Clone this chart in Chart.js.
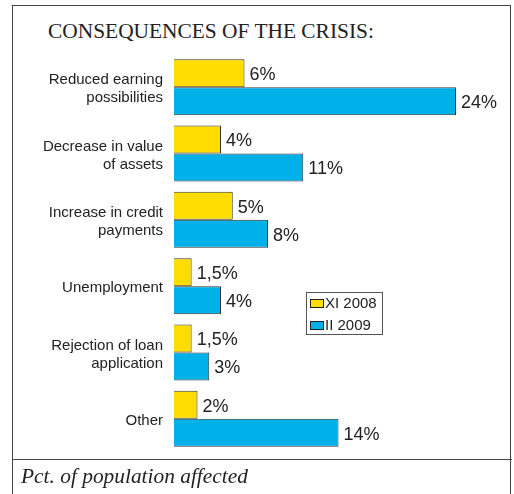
<!DOCTYPE html>
<html lang="en">
<head>
    <meta charset="UTF-8">
    <title>Consequences of the Crisis</title>
    <script src="https://cdn.jsdelivr.net/npm/chart.js"></script>
    <style>
        body {
            margin: 0;
            background-color: white;
            width: 514px;
            height: 494px;
            position: relative;
            overflow: hidden;
        }
        .frame {
            position: absolute;
            left: 12px;
            top: 5px;
            width: 497px;
            height: 500px;
            border: 1.5px solid #444;
        }
        .title {
            position: absolute;
            left: 48px;
            top: 19px;
            font-family: "Liberation Serif", "Times New Roman", serif;
            font-size: 21.4px;
            color: #222;
            white-space: nowrap;
        }
        .footer {
            position: absolute;
            box-sizing: border-box;
            left: 12px;
            top: 459px;
            width: 500px;
            border-top: 1.5px solid #444;
            padding: 4px 0 0 9px;
            font-family: "Liberation Serif", "Times New Roman", serif;
            font-style: italic;
            font-size: 21.4px;
            color: #222;
            white-space: nowrap;
        }
        .chart-container {
            position: absolute;
            left: 0;
            top: 0;
            width: 514px;
            height: 494px;
        }
    </style>
</head>
<body>
    <div class="frame"></div>
    <div class="title">CONSEQUENCES OF THE CRISIS:</div>
    <div class="chart-container">
        <canvas id="crisisChart"></canvas>
    </div>
    <div class="footer">Pct. of population affected</div>

    <script>
        const categories = [
            ['Reduced earning', 'possibilities'],
            ['Decrease in value', 'of assets'],
            ['Increase in credit', 'payments'],
            'Unemployment',
            ['Rejection of loan', 'application'],
            'Other'
        ];
        const seriesNames = ['XI 2008', 'II 2009'];
        const nov2008 = [6, 4, 5, 1.5, 1.5, 2];
        const feb2009 = [24, 11, 8, 4, 3, 14];

        const YELLOW = '#FFDD00';
        const BLUE = '#00B0E8';

        // percent with a decimal comma, e.g. "1,5%"
        function fmt(v) {
            return String(v).replace('.', ',') + '%';
        }

        // value text just past the end of each bar
        const valueLabels = {
            id: 'valueLabels',
            afterDatasetsDraw(chart) {
                const ctx = chart.ctx;
                ctx.save();
                ctx.font = '18px "Liberation Sans", Arial, sans-serif';
                ctx.fillStyle = '#222';
                ctx.textAlign = 'left';
                ctx.textBaseline = 'middle';
                chart.data.datasets.forEach((ds, i) => {
                    chart.getDatasetMeta(i).data.forEach((bar, j) => {
                        ctx.fillText(fmt(ds.data[j]), bar.x + 5, bar.y + 2);
                    });
                });
                ctx.restore();
            }
        };

        // small boxed legend sitting in the middle of the plot
        const boxLegend = {
            id: 'boxLegend',
            afterDraw(chart) {
                const ctx = chart.ctx;
                const x = 306.5, y = 292.5, w = 76, h = 42;
                ctx.save();
                ctx.fillStyle = 'white';
                ctx.fillRect(x, y, w, h);
                ctx.strokeStyle = '#555';
                ctx.lineWidth = 1;
                ctx.strokeRect(x, y, w, h);
                ctx.font = '15px "Liberation Sans", Arial, sans-serif';
                ctx.textBaseline = 'middle';
                chart.data.datasets.forEach((ds, i) => {
                    const sy = 299.5 + i * 22;
                    ctx.fillStyle = ds.backgroundColor;
                    ctx.fillRect(310.5, sy, 13, 8);
                    ctx.strokeStyle = '#222';
                    ctx.strokeRect(310.5, sy, 13, 8);
                    ctx.fillStyle = '#222';
                    ctx.fillText(ds.label, 325, sy + 4.5);
                });
                ctx.restore();
            }
        };

        new Chart(document.getElementById('crisisChart'), {
            type: 'bar',
            data: {
                labels: categories,
                datasets: [
                    {
                        label: seriesNames[0],
                        data: nov2008,
                        backgroundColor: YELLOW,
                        borderColor: '#333',
                        borderWidth: 1
                    },
                    {
                        label: seriesNames[1],
                        data: feb2009,
                        backgroundColor: BLUE,
                        borderColor: '#333',
                        borderWidth: 1
                    }
                ]
            },
            options: {
                indexAxis: 'y',
                responsive: true,
                maintainAspectRatio: false,
                animation: false,
                categoryPercentage: 0.843,
                barPercentage: 1,
                layout: {
                    padding: { top: 54, bottom: 42, right: 11, left: 0 }
                },
                plugins: {
                    legend: { display: false },
                    tooltip: { enabled: false }
                },
                scales: {
                    x: {
                        display: false,
                        min: 0,
                        max: 28
                    },
                    y: {
                        grid: { display: false, drawTicks: false },
                        border: { display: false },
                        ticks: {
                            padding: 11,
                            labelOffset: 2,
                            color: '#222',
                            font: { family: '"Liberation Sans", Arial, sans-serif', size: 15, lineHeight: 1.2 }
                        },
                        afterFit(scale) {
                            scale.width = 174;
                        }
                    }
                }
            },
            plugins: [valueLabels, boxLegend]
        });
    </script>
</body>
</html>
